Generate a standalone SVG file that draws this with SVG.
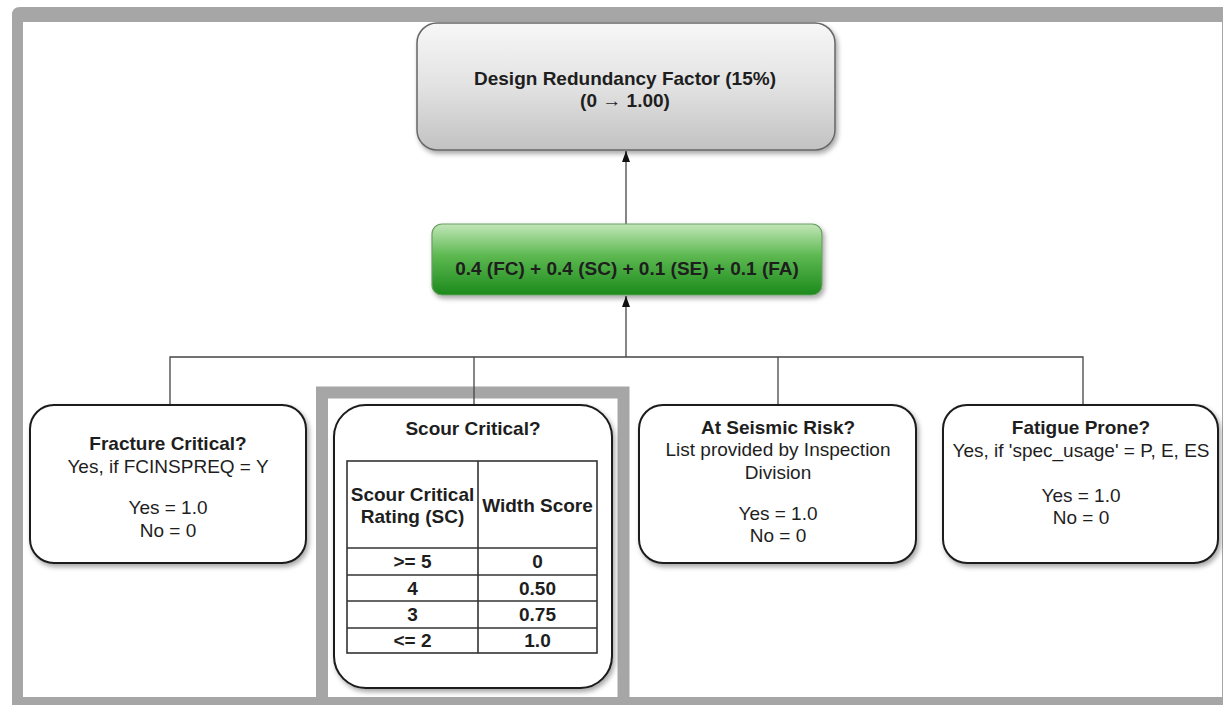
<svg xmlns="http://www.w3.org/2000/svg" width="1223" height="705" viewBox="0 0 1223 705">
<defs>
<linearGradient id="gGray" x1="0" y1="0" x2="0" y2="1">
<stop offset="0" stop-color="#f7f7f7"/>
<stop offset="0.5" stop-color="#e2e2e2"/>
<stop offset="1" stop-color="#c2c2c2"/>
</linearGradient>
<linearGradient id="gGreen" x1="0" y1="0" x2="0" y2="1">
<stop offset="0" stop-color="#c2e6b8"/>
<stop offset="0.45" stop-color="#5cb850"/>
<stop offset="1" stop-color="#1c8a1c"/>
</linearGradient>
<filter id="sh" x="-10%" y="-10%" width="125%" height="130%">
<feDropShadow dx="2" dy="3" stdDeviation="2.5" flood-color="#000" flood-opacity="0.35"/>
</filter>
<marker id="arr" viewBox="0 0 11 8" refX="11" refY="4" markerWidth="11" markerHeight="8" markerUnits="userSpaceOnUse" orient="auto">
<path d="M0,0 L11,4 L0,8 z" fill="#111"/>
</marker>
<style>
.frame{fill:none;stroke:#a6a6a6}
.box{fill:#fff;stroke:#1a1a1a;stroke-width:2}
.t{font-family:"Liberation Sans",Arial,sans-serif;font-size:19px;fill:#1e1e1e;text-anchor:middle}
.b{font-weight:bold}
.ln{stroke:#444;stroke-width:1.3;fill:none}
.tbl{stroke:#333;stroke-width:1.6;fill:none}
</style>
</defs>
<rect width="1223" height="705" fill="#fff"/>
<g id="frames">
<rect class="frame" x="322" y="392.5" width="301.5" height="330" stroke-width="12"/>
<path fill="#a6a6a6" fill-rule="evenodd" d="M20,7 H1240 V720 H12 V15 Q12,7 20,7 Z M23,22 V697 H1222 V22 Z"/>
</g>
<g id="connectors">
<line class="ln" x1="626" y1="224" x2="626" y2="151" marker-end="url(#arr)"/>
<line class="ln" x1="626" y1="357" x2="626" y2="296" marker-end="url(#arr)"/>
<polyline class="ln" points="170,405 170,357 1083,357 1083,405"/>
<line class="ln" x1="474" y1="357" x2="474" y2="405"/>
<line class="ln" x1="778" y1="357" x2="778" y2="405"/>
</g>
<g id="top">
<rect x="417" y="23" width="418" height="127" rx="20" fill="url(#gGray)" stroke="#666" stroke-width="1.5" filter="url(#sh)"/>
<text class="t b" x="625" y="85">Design Redundancy Factor (15%)</text>
<text class="t b" x="625" y="107">(0 → 1.00)</text>
</g>
<g id="formula">
<rect x="432" y="224" width="390" height="71" rx="10" fill="url(#gGreen)" stroke="#6b9f63" stroke-width="1.2" filter="url(#sh)"/>
<text class="t b" x="627" y="275">0.4 (FC) + 0.4 (SC) + 0.1 (SE) + 0.1 (FA)</text>
</g>
<g id="fracture">
<rect class="box" x="30" y="405" width="276" height="158" rx="24" filter="url(#sh)"/>
<text class="t b" x="168" y="450">Fracture Critical?</text>
<text class="t" x="168" y="473">Yes, if FCINSPREQ = Y</text>
<text class="t" x="168" y="514">Yes = 1.0</text>
<text class="t" x="168" y="537">No = 0</text>
</g>
<g id="scour">
<rect class="box" x="334" y="405" width="278" height="283" rx="32" filter="url(#sh)"/>
<text class="t b" x="473" y="435">Scour Critical?</text>
<rect class="tbl" x="347" y="461" width="250" height="192"/>
<line class="tbl" x1="478" y1="461" x2="478" y2="653"/>
<line class="tbl" x1="347" y1="548" x2="597" y2="548"/>
<line class="tbl" x1="347" y1="575" x2="597" y2="575"/>
<line class="tbl" x1="347" y1="601" x2="597" y2="601"/>
<line class="tbl" x1="347" y1="628" x2="597" y2="628"/>
<text class="t b" x="412.5" y="501">Scour Critical</text>
<text class="t b" x="412.5" y="523">Rating (SC)</text>
<text class="t b" x="537.5" y="512">Width Score</text>
<text class="t b" x="412.5" y="568">&gt;= 5</text>
<text class="t b" x="537.5" y="568">0</text>
<text class="t b" x="412.5" y="595">4</text>
<text class="t b" x="537.5" y="595">0.50</text>
<text class="t b" x="412.5" y="621">3</text>
<text class="t b" x="537.5" y="621">0.75</text>
<text class="t b" x="412.5" y="647">&lt;= 2</text>
<text class="t b" x="537.5" y="647">1.0</text>
</g>
<g id="seismic">
<rect class="box" x="639" y="405" width="277" height="158" rx="24" filter="url(#sh)"/>
<text class="t b" x="778" y="434">At Seismic Risk?</text>
<text class="t" x="778" y="456">List provided by Inspection</text>
<text class="t" x="778" y="479">Division</text>
<text class="t" x="778" y="520">Yes = 1.0</text>
<text class="t" x="778" y="542">No = 0</text>
</g>
<g id="fatigue">
<rect class="box" x="943" y="405" width="275" height="158" rx="24" filter="url(#sh)"/>
<text class="t b" x="1081" y="434">Fatigue Prone?</text>
<text class="t" x="1081" y="457">Yes, if 'spec_usage' = P, E, ES</text>
<text class="t" x="1081" y="502">Yes = 1.0</text>
<text class="t" x="1081" y="524">No = 0</text>
</g>
</svg>
